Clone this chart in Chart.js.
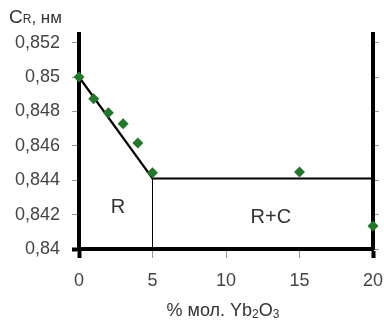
<!DOCTYPE html>
<html>
<head>
<meta charset="utf-8">
<script src="https://cdn.jsdelivr.net/npm/chart.js@4.4.0/dist/chart.umd.min.js"></script>
<style>
  html, body { margin: 0; padding: 0; background: #fff; }
  #wrap { width: 384px; height: 321px; }
</style>
</head>
<body>
<div id="wrap"><canvas id="chart" width="384" height="321"></canvas></div>
<script>
// measured points
const molX = [0, 1, 2, 3, 4, 5, 15, 20];
const cR = [0.8500, 0.84874, 0.84792, 0.84728, 0.84617, 0.84443, 0.84448, 0.84134];

// phase boundary lines
const boundaryX = [0, 5, 20];
const boundaryY = [0.8500, 0.8441, 0.8441];
const dividerX = [5, 5];
const dividerY = [0.840, 0.8441];

// axes
const xTicks = [0, 5, 10, 15, 20];
const yTicks = [0.840, 0.842, 0.844, 0.846, 0.848, 0.850, 0.852];
const yMin = 0.840, yMax = 0.8525;

// phase region labels
const phaseNames = ["R", "R+C"];
const phaseX = [2.65, 13.05];
const phaseY = [0.8424, 0.84186];

const FONT = '"Liberation Sans", Arial, sans-serif';
const toPts = (xs, ys) => xs.map((x, i) => ({ x: x, y: ys[i] }));

const textPlugin = {
  id: "texts",
  afterDraw(chart) {
    const { ctx, scales: { x, y } } = chart;
    ctx.save();
    ctx.fillStyle = "#333";

    // y title: C_R, нм
    ctx.textAlign = "left";
    ctx.textBaseline = "alphabetic";
    let px = 9;
    ctx.font = "19px " + FONT;
    ctx.fillText("C", px, 23);
    px += ctx.measureText("C").width;
    ctx.font = "12px " + FONT;
    ctx.fillText("R", px, 23);
    px += ctx.measureText("R").width;
    ctx.font = "17px " + FONT;
    ctx.fillText(", нм", px, 23);

    // x title: % мол. Yb2O3
    const parts = [["% мол. Yb", 18, 0], ["2", 12, 2], ["O", 18, 0], ["3", 12, 2]];
    let total = 0;
    parts.forEach(p => { ctx.font = p[1] + "px " + FONT; total += ctx.measureText(p[0]).width; });
    px = 223 - total / 2;
    parts.forEach(p => {
      ctx.font = p[1] + "px " + FONT;
      ctx.fillText(p[0], px, 316 + p[2]);
      px += ctx.measureText(p[0]).width;
    });

    // phase labels
    ctx.textAlign = "center";
    ctx.textBaseline = "middle";
    ctx.font = "20px " + FONT;
    phaseNames.forEach((name, i) => {
      ctx.fillText(name, x.getPixelForValue(phaseX[i]), y.getPixelForValue(phaseY[i]));
    });
    ctx.restore();
  }
};

const tickStyle = (edgeVals) => ({
  tickColor: (c) => edgeVals.includes(c.tick && c.tick.value) ? "#000" : "#999",
  tickWidth: (c) => edgeVals.includes(c.tick && c.tick.value) ? 4 : 1
});

new Chart(document.getElementById("chart"), {
  type: "line",
  data: {
    datasets: [
      {
        data: toPts(molX, cR),
        showLine: false,
        pointStyle: "rectRot",
        pointRadius: 5.5,
        pointBackgroundColor: "#22782a",
        pointBorderWidth: 0,
        clip: false,
        yAxisID: "y"
      },
      {
        data: toPts(boundaryX, boundaryY),
        borderColor: "#000",
        borderWidth: 2.2,
        pointRadius: 0,
        tension: 0,
        clip: false,
        yAxisID: "y"
      },
      {
        data: toPts(dividerX, dividerY),
        borderColor: "#000",
        borderWidth: 1,
        pointRadius: 0,
        clip: false,
        yAxisID: "y"
      }
    ]
  },
  options: {
    responsive: false,
    animation: false,
    layout: { padding: { top: 34, left: 0, right: 0, bottom: 0 } },
    plugins: { legend: { display: false }, tooltip: { enabled: false } },
    scales: {
      x: {
        type: "linear",
        min: 0,
        max: 20,
        afterBuildTicks: (s) => { s.ticks = xTicks.map(v => ({ value: v })); },
        afterFit: (s) => { s.height = 72; s.paddingLeft = 0; s.paddingRight = 0; },
        border: { display: true, color: "#000", width: 4 },
        grid: Object.assign({ drawOnChartArea: false, drawTicks: true, tickLength: 9 }, tickStyle([0, 20])),
        ticks: {
          color: "#444",
          font: { family: FONT, size: 18 },
          padding: 12,
          maxRotation: 0,
          callback: (v) => String(v)
        }
      },
      y: {
        type: "linear",
        position: "left",
        min: yMin,
        max: yMax,
        afterBuildTicks: (s) => { s.ticks = yTicks.map(v => ({ value: v })); },
        afterFit: (s) => { s.width = 79; s.paddingTop = 0; s.paddingBottom = 0; },
        border: { display: true, color: "#000", width: 4 },
        grid: Object.assign({ drawOnChartArea: false, drawTicks: true, tickLength: 7 }, tickStyle([0.84])),
        ticks: {
          color: "#444",
          font: { family: FONT, size: 18 },
          padding: 12,
          callback: (v) => String(+v.toFixed(3)).replace(".", ",")
        }
      },
      y2: {
        type: "linear",
        position: "right",
        min: yMin,
        max: yMax,
        afterBuildTicks: (s) => { s.ticks = yTicks.map(v => ({ value: v })); },
        afterFit: (s) => { s.width = 11; s.paddingTop = 0; s.paddingBottom = 0; },
        border: { display: true, color: "#000", width: 4 },
        grid: { drawOnChartArea: false, drawTicks: true, tickLength: 6, tickColor: "#999", tickWidth: 1 },
        ticks: { display: false }
      }
    }
  },
  plugins: [textPlugin]
});
</script>
</body>
</html>
